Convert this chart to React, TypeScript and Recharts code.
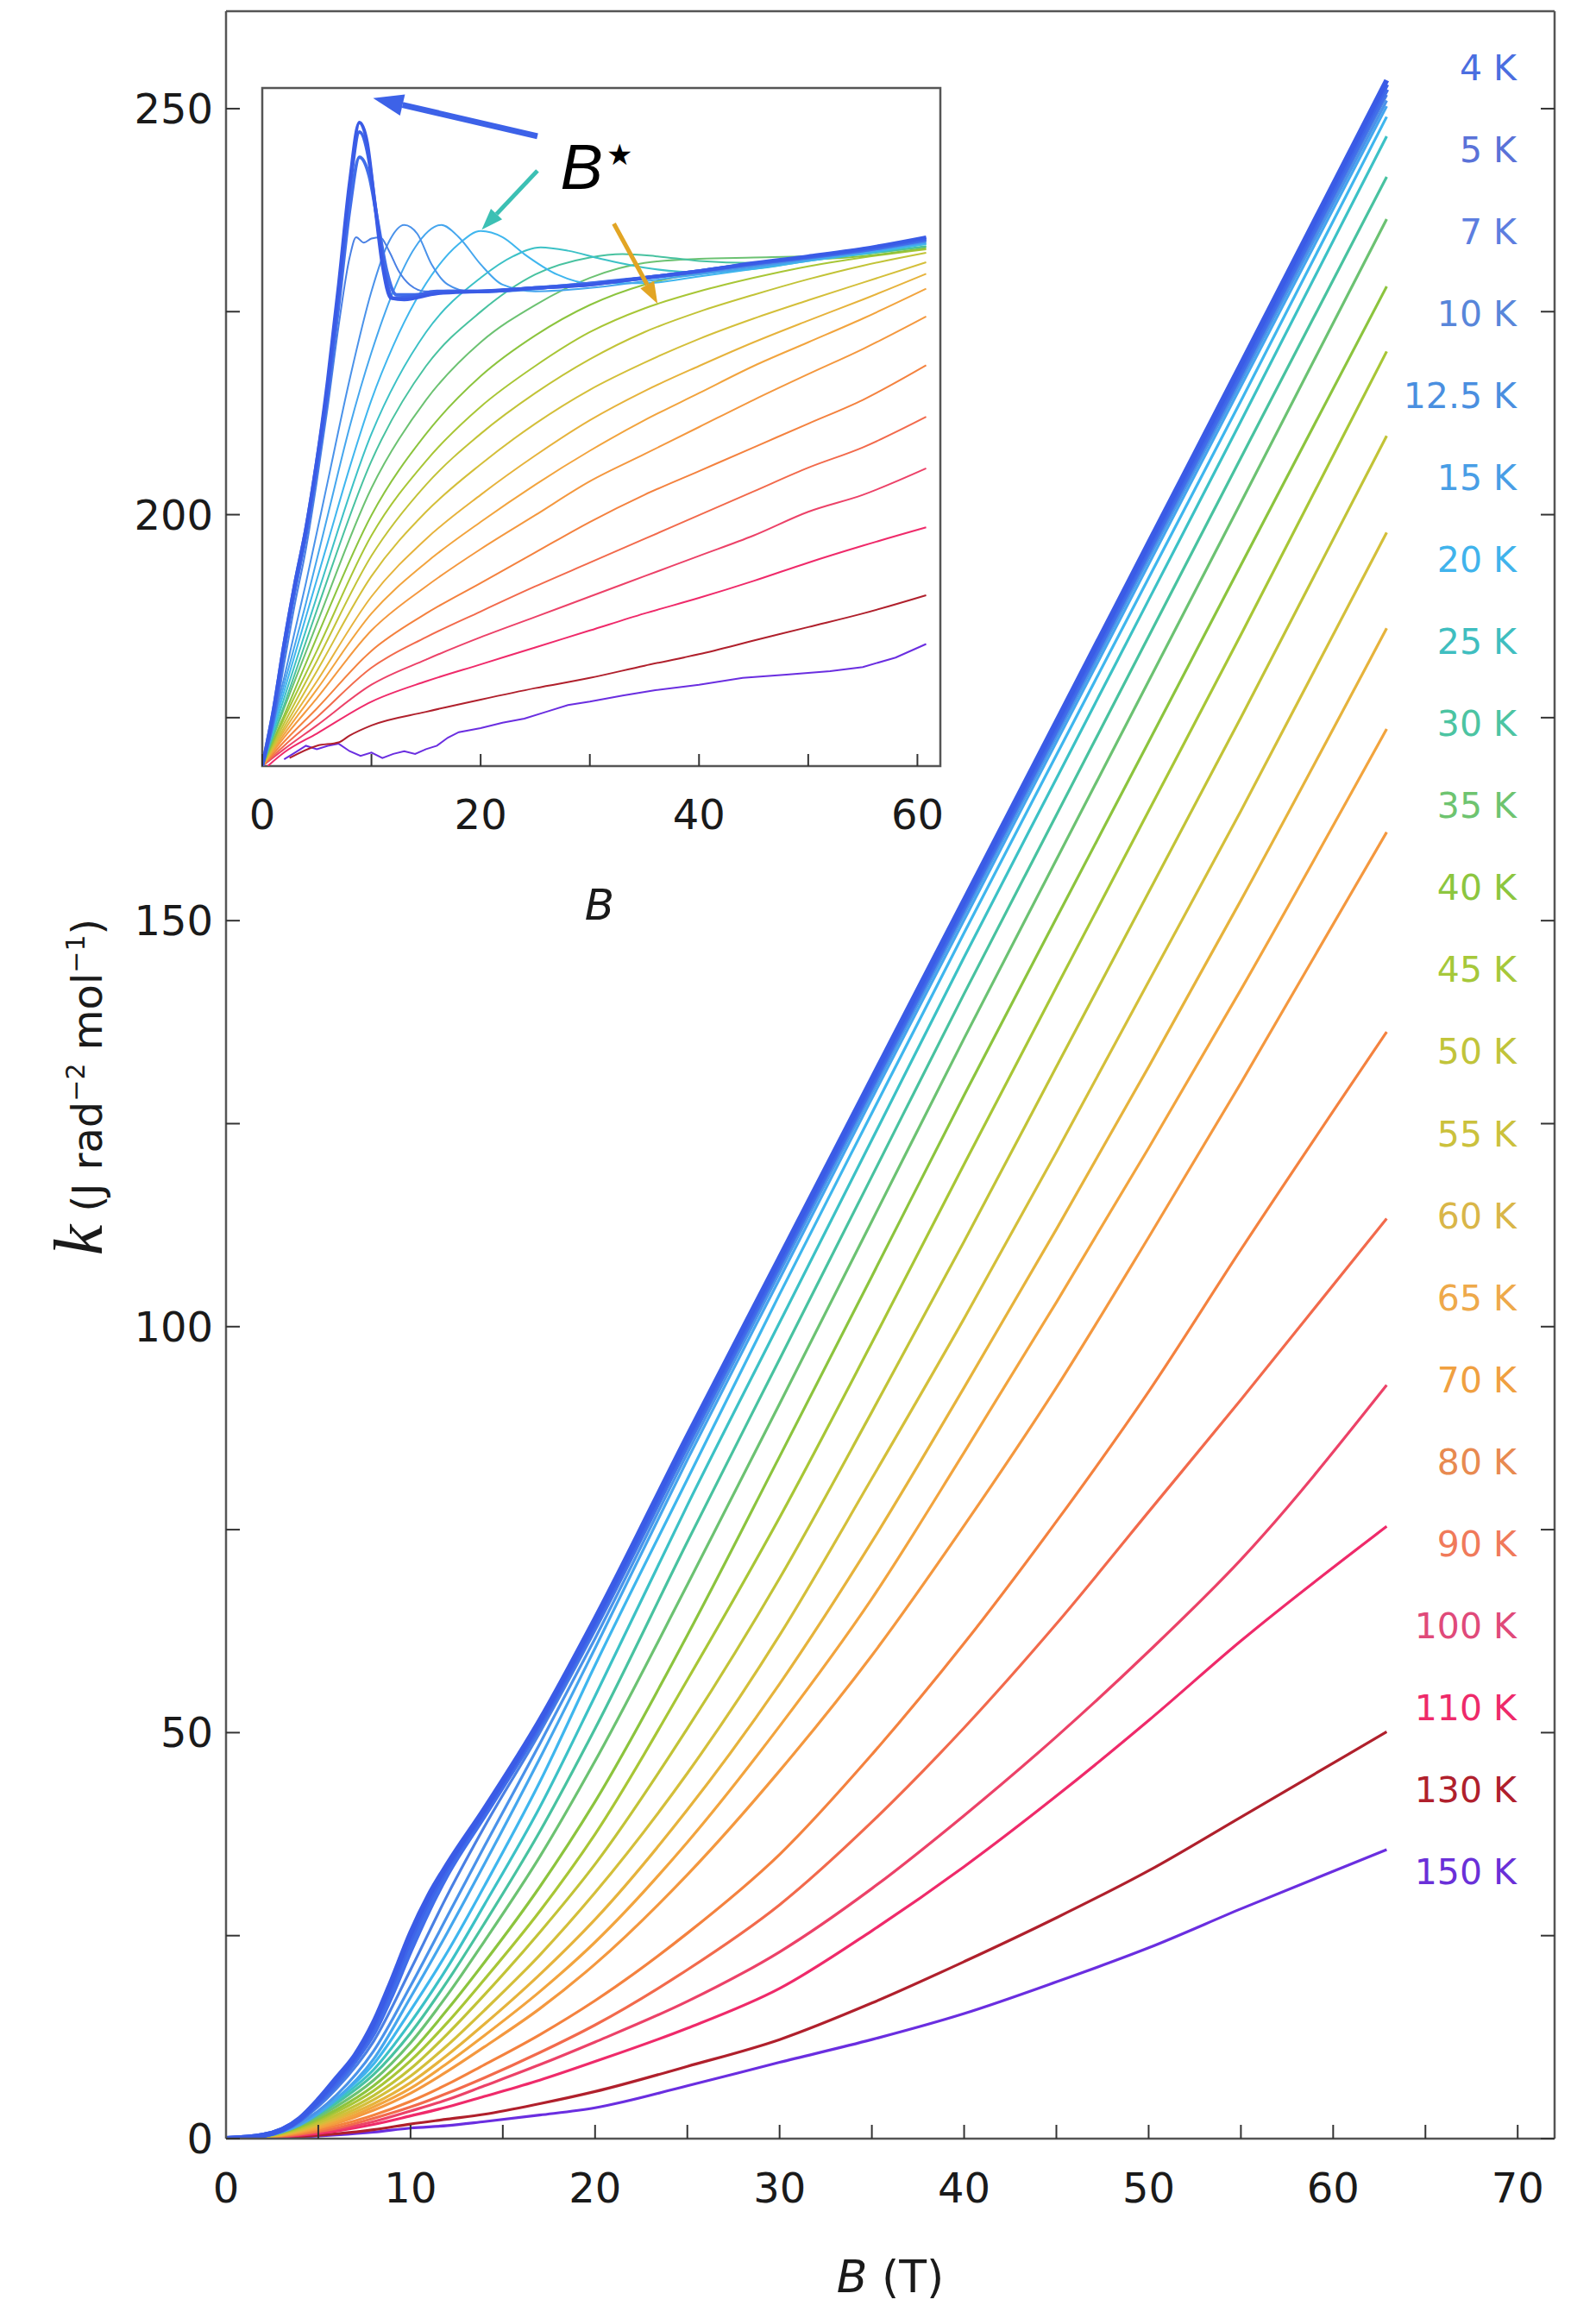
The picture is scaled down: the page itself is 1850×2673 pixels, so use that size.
import React from 'react';
import { LineChart, Line, XAxis, YAxis, ReferenceDot, ReferenceLine, ReferenceArea, Label } from 'recharts';

const FONT = '"DejaVu Sans", sans-serif';

// temperature labels and colours (4 K ... 150 K)
const temps = ['4 K', '5 K', '7 K', '10 K', '12.5 K', '15 K', '20 K', '25 K', '30 K', '35 K', '40 K', '45 K',
  '50 K', '55 K', '60 K', '65 K', '70 K', '80 K', '90 K', '100 K', '110 K', '130 K', '150 K'];
const lineColors = ['#3a5be6', '#3e64e8', '#416eea', '#4a80e4', '#4a92ea', '#45a6ee', '#3fb6ee', '#3cc1c6',
  '#48c2a0', '#6cc272', '#8cc43e', '#a8c636', '#c2c337', '#d4bf3a', '#e6b33c', '#f2a43e', '#f4983f',
  '#f4823f', '#f26a4c', '#ec4268', '#ef2a6a', '#b0202c', '#6a2ee0'];
const labelColors = ['#4a6ee0', '#5a72d8', '#5d7ee0', '#5886da', '#4a8fe0', '#489ee6', '#40b3ec', '#3fbec0',
  '#4cc4a2', '#6ec470', '#8cc63f', '#a6c83a', '#c1c43a', '#cbc13c', '#d9b648', '#eea94a', '#f0a040',
  '#e88a50', '#f07a5a', '#e04a7a', '#ee2a6a', '#b0202c', '#6a30d8'];

// main panel: k vs B (T), one list of [B, k] per temperature
const k4K = [[0, 0], [2, 0.4], [4, 2.5], [5, 4.8], [6, 7.5], [7, 10.3], [8, 14.3], [9, 19.6], [10, 25.3], [11, 30], [12, 33.8], [14, 40.6], [17, 51.5], [20, 64], [25, 86.5], [30, 108.5], [35, 130.5], [40, 152.5], [45, 174.5], [50, 196.5], [55, 218.5], [62.9, 253.5]];
const k5K = [[0, 0], [2, 0.4], [4, 2.4], [5, 4.6], [6, 7.2], [7, 10], [8, 13.8], [9, 19], [10, 24.6], [11, 29.4], [12, 33.4], [14, 40.3], [17, 51.2], [20, 63.6], [25, 86.1], [30, 108.1], [35, 130.1], [40, 152.1], [45, 174.1], [50, 196.1], [55, 218], [62.9, 253]];
const k7K = [[0, 0], [2, 0.4], [4, 2.3], [5, 4.4], [6, 6.8], [7, 9.6], [8, 13], [9, 17.8], [10, 23.2], [11, 28.2], [12, 32.6], [14, 39.8], [17, 50.8], [20, 63.2], [25, 85.6], [30, 107.7], [35, 129.7], [40, 151.7], [45, 173.6], [50, 195.6], [55, 217.5], [62.9, 252.4]];
const k10K = [[0, 0], [2, 0.4], [4, 2.2], [6, 6.2], [8, 12], [10, 20.8], [12, 30], [14, 38.4], [17, 50], [20, 62.6], [25, 85.1], [30, 107.3], [35, 129.3], [40, 151.3], [45, 173.2], [50, 195.1], [55, 217], [62.9, 251.7]];
const k12K = [[0, 0], [2, 0.35], [4, 1.9], [6, 5.4], [8, 10.8], [10, 18.8], [12, 27.4], [14, 36], [17, 48.6], [20, 61.6], [25, 84.4], [30, 106.7], [35, 128.8], [40, 150.8], [45, 172.7], [50, 194.6], [55, 216.5], [62.9, 251]];
const k15K = [[0, 0], [2, 0.3], [4, 1.7], [6, 4.9], [8, 9.8], [10, 17.4], [12, 25.4], [14, 33.8], [17, 46.8], [20, 60.4], [25, 83.6], [30, 105.9], [35, 128.1], [40, 150.1], [45, 172], [50, 193.9], [55, 215.8], [62.9, 250.3]];
const k20K = [[0, 0], [2, 0.35], [4, 2], [6, 5], [8, 9.2], [10, 15.8], [12, 23], [14, 31.1], [17, 43.9], [20, 58.3], [25, 81.2], [30, 104], [35, 126.3], [40, 148.5], [45, 170.4], [50, 192.2], [55, 214], [62.9, 249]];
const k25K = [[0, 0], [2, 0.35], [4, 1.9], [6, 4.7], [8, 8.5], [10, 14.3], [12, 21.1], [14, 28.8], [17, 40.8], [20, 54.5], [25, 78], [30, 100.5], [35, 123], [40, 145.5], [45, 167.5], [50, 189.5], [55, 211.5], [62.9, 246.6]];
const k30K = [[0, 0], [2, 0.35], [4, 1.8], [6, 4.4], [8, 7.9], [10, 13], [12, 19.4], [14, 26.5], [17, 37.8], [20, 50.5], [25, 73.5], [30, 96], [35, 118.5], [40, 141], [45, 163], [50, 185], [55, 207], [62.9, 241.6]];
const k35K = [[0, 0], [2, 0.33], [4, 1.65], [6, 4], [8, 7.2], [10, 11.8], [12, 17.7], [14, 24.3], [17, 34.7], [20, 46.5], [25, 68.2], [30, 90.5], [35, 113], [40, 135.5], [45, 157.5], [50, 179.5], [55, 201.5], [62.9, 236.4]];
const k40K = [[0, 0], [2, 0.3], [4, 1.5], [6, 3.6], [8, 6.5], [10, 10.6], [12, 15.9], [14, 21.7], [17, 31], [20, 41.5], [25, 62], [30, 84], [35, 106.2], [40, 128.5], [45, 150.3], [50, 172], [55, 193.8], [62.9, 228.1]];
const k45K = [[0, 0], [2, 0.28], [4, 1.35], [6, 3.3], [8, 5.9], [10, 9.6], [12, 14.3], [14, 19.6], [17, 28], [20, 37.5], [25, 56.5], [30, 76.5], [35, 98], [40, 120], [45, 141.8], [50, 163.5], [55, 185.2], [62.9, 220.1]];
const k50K = [[0, 0], [2, 0.26], [4, 1.2], [6, 2.95], [8, 5.3], [10, 8.6], [12, 12.9], [14, 17.7], [17, 25.4], [20, 33.8], [25, 50.5], [30, 69], [35, 89.5], [40, 110.5], [45, 132], [50, 153.5], [55, 175], [62.9, 209.7]];
const k55K = [[0, 0], [2, 0.23], [4, 1.1], [6, 2.65], [8, 4.8], [10, 7.7], [12, 11.5], [14, 15.8], [17, 22.6], [20, 30.3], [25, 45], [30, 62], [35, 81.3], [40, 101], [45, 121.5], [50, 142.5], [55, 163.5], [62.9, 197.8]];
const k60K = [[0, 0], [2, 0.2], [4, 1], [6, 2.4], [8, 4.3], [10, 6.9], [12, 10.3], [14, 14.1], [17, 20.2], [20, 27], [25, 40.5], [30, 56], [35, 73.5], [40, 92.5], [45, 112], [50, 132], [55, 152.5], [62.9, 186]];
const k65K = [[0, 0], [2, 0.19], [4, 0.87], [6, 2.1], [8, 3.9], [10, 6.2], [12, 9.3], [14, 12.7], [17, 18.1], [20, 24.2], [25, 36.5], [30, 50.8], [35, 66.5], [40, 84.5], [45, 103], [50, 122], [55, 141.5], [62.9, 173.6]];
const k70K = [[0, 0], [2, 0.17], [4, 0.78], [6, 1.9], [8, 3.5], [10, 5.6], [12, 8.3], [14, 11.3], [17, 16], [20, 21.5], [25, 32.5], [30, 45.3], [35, 59.5], [40, 75.5], [45, 92.5], [50, 111], [55, 130], [62.9, 160.9]];
const k80K = [[0, 0], [2, 0.14], [4, 0.64], [6, 1.6], [8, 2.9], [10, 4.6], [12, 6.7], [14, 9.1], [17, 12.8], [20, 17], [25, 25.3], [30, 35], [35, 47.3], [40, 61], [45, 76], [50, 92], [55, 109.5], [62.9, 136.3]];
const k90K = [[0, 0], [2, 0.12], [4, 0.55], [6, 1.3], [8, 2.5], [10, 3.9], [12, 5.6], [14, 7.5], [17, 10.6], [20, 14], [25, 20.8], [30, 28.8], [35, 39], [40, 50.6], [45, 63.4], [50, 77.2], [55, 91], [62.9, 113.3]];
const k100K = [[0, 0], [2, 0.1], [4, 0.48], [6, 1.15], [8, 2.1], [10, 3.4], [12, 4.8], [14, 6.5], [17, 9.1], [20, 11.9], [25, 16.9], [30, 23], [35, 30.8], [40, 39.8], [45, 49.5], [50, 60], [55, 71.3], [62.9, 92.8]];
const k110K = [[0, 0], [2, 0.08], [4, 0.4], [6, 0.95], [8, 1.75], [10, 2.8], [12, 3.9], [14, 5.2], [17, 7.2], [20, 9.5], [25, 13.6], [30, 18.5], [35, 25.6], [40, 33.5], [45, 42.2], [50, 51.5], [55, 61.3], [62.9, 75.4]];
const k130K = [[0, 0], [2, 0.05], [4, 0.25], [6, 0.6], [8, 1.1], [10, 1.8], [12, 2.4], [14, 3], [17, 4.3], [20, 5.8], [25, 8.9], [30, 12.2], [35, 16.7], [40, 21.8], [45, 27.2], [50, 33], [55, 39.6], [62.9, 50.1]];
const k150K = [[0, 0], [2, 0.04], [4, 0.2], [6, 0.45], [8, 0.8], [10, 1.3], [12, 1.6], [14, 2.1], [17, 2.9], [20, 3.8], [25, 6.5], [30, 9.4], [35, 12.2], [40, 15.4], [45, 19.3], [50, 23.5], [55, 28.3], [62.9, 35.6]];

// inset: dk/dB (arbitrary units) vs B, one list of [B, dk/dB] per temperature
const d4K = [[0, 0], [1, 0.08], [2, 0.18], [3, 0.27], [4, 0.35], [5, 0.45], [6, 0.57], [7, 0.71], [8, 0.86], [8.9, 0.949], [9.6, 0.92], [10.3, 0.83], [11, 0.74], [11.8, 0.69], [13, 0.688], [16, 0.697], [20, 0.7], [25, 0.705], [30, 0.71], [36, 0.722], [40, 0.73], [45, 0.742], [50, 0.752], [55, 0.763], [60.8, 0.78]];
const d5K = [[0, 0], [1, 0.08], [2, 0.18], [3, 0.27], [4, 0.35], [5, 0.45], [6, 0.56], [7, 0.7], [8, 0.85], [8.9, 0.935], [9.7, 0.9], [10.4, 0.82], [11.2, 0.73], [12, 0.69], [13.5, 0.692], [16, 0.7], [20, 0.7], [25, 0.705], [30, 0.71], [36, 0.722], [40, 0.73], [45, 0.741], [50, 0.751], [55, 0.762], [60.8, 0.778]];
const d7K = [[0, 0], [1, 0.07], [2, 0.17], [3, 0.26], [4, 0.34], [5, 0.44], [6, 0.55], [7, 0.68], [8, 0.82], [8.9, 0.898], [9.8, 0.87], [10.6, 0.8], [11.4, 0.73], [12.3, 0.695], [14, 0.695], [17, 0.7], [20, 0.7], [25, 0.705], [30, 0.712], [36, 0.722], [40, 0.73], [45, 0.741], [50, 0.75], [55, 0.76], [60.8, 0.776]];
const d10K = [[0, 0], [1, 0.06], [2, 0.15], [3, 0.24], [4, 0.32], [5, 0.42], [6, 0.53], [7, 0.65], [8, 0.75], [8.6, 0.78], [9.3, 0.772], [10, 0.778], [10.8, 0.78], [11.6, 0.76], [12.5, 0.73], [13.5, 0.71], [15, 0.7], [18, 0.7], [22, 0.703], [28, 0.71], [35, 0.72], [40, 0.728], [45, 0.739], [50, 0.749], [55, 0.76], [60.8, 0.775]];
const d12K = [[0, 0], [2, 0.13], [4, 0.27], [6, 0.42], [8, 0.57], [10, 0.7], [11.5, 0.77], [13, 0.798], [14.2, 0.785], [15.5, 0.74], [17, 0.71], [19, 0.7], [22, 0.7], [28, 0.708], [35, 0.718], [40, 0.727], [45, 0.737], [50, 0.748], [55, 0.759], [60.8, 0.773]];
const d15K = [[0, 0], [2, 0.12], [4, 0.24], [6, 0.37], [8, 0.5], [10, 0.61], [12, 0.7], [14, 0.765], [16.4, 0.798], [18, 0.78], [20, 0.74], [22, 0.71], [25, 0.7], [30, 0.705], [35, 0.715], [40, 0.725], [45, 0.735], [50, 0.746], [55, 0.757], [60.8, 0.772]];
const d20K = [[0, 0], [2, 0.11], [4, 0.22], [6, 0.33], [8, 0.44], [10, 0.54], [12, 0.62], [14, 0.685], [16, 0.735], [18, 0.77], [20, 0.789], [22, 0.78], [24, 0.755], [27, 0.725], [30, 0.712], [35, 0.712], [40, 0.722], [45, 0.733], [50, 0.745], [55, 0.756], [60.8, 0.77]];
const d25K = [[0, 0], [2, 0.1], [5, 0.25], [10, 0.49], [15, 0.64], [20, 0.72], [23, 0.752], [25.5, 0.765], [28, 0.76], [31, 0.748], [35, 0.735], [40, 0.728], [45, 0.733], [50, 0.745], [55, 0.755], [60.8, 0.77]];
const d30K = [[0, 0], [2, 0.09], [5, 0.23], [10, 0.45], [15, 0.59], [20, 0.67], [25, 0.725], [30, 0.75], [33, 0.755], [36, 0.752], [40, 0.745], [45, 0.742], [50, 0.748], [55, 0.755], [60.8, 0.767]];
const d35K = [[0, 0], [2, 0.085], [5, 0.21], [10, 0.41], [15, 0.54], [20, 0.625], [25, 0.68], [30, 0.72], [35, 0.742], [40, 0.748], [45, 0.75], [50, 0.752], [55, 0.756], [60.8, 0.766]];
const d40K = [[0, 0], [2, 0.075], [5, 0.19], [10, 0.37], [15, 0.49], [20, 0.575], [25, 0.635], [30, 0.68], [35, 0.71], [40, 0.727], [45, 0.738], [50, 0.746], [55, 0.752], [60.8, 0.764]];
const d45K = [[0, 0], [2, 0.07], [5, 0.17], [10, 0.34], [15, 0.45], [20, 0.53], [25, 0.59], [30, 0.64], [35, 0.675], [40, 0.7], [45, 0.72], [50, 0.737], [55, 0.75], [60.8, 0.762]];
const d50K = [[0, 0], [2, 0.063], [5, 0.155], [10, 0.31], [15, 0.415], [20, 0.49], [25, 0.55], [30, 0.6], [35, 0.64], [40, 0.67], [45, 0.695], [50, 0.718], [55, 0.738], [60.8, 0.757]];
const d55K = [[0, 0], [2, 0.057], [5, 0.14], [10, 0.28], [15, 0.375], [20, 0.445], [25, 0.505], [30, 0.555], [35, 0.595], [40, 0.63], [45, 0.66], [50, 0.687], [55, 0.713], [60.8, 0.743]];
const d60K = [[0, 0], [2, 0.052], [5, 0.125], [10, 0.25], [15, 0.335], [20, 0.4], [25, 0.458], [30, 0.51], [35, 0.553], [40, 0.59], [45, 0.625], [50, 0.657], [55, 0.688], [60.8, 0.726]];
const d65K = [[0, 0], [2, 0.047], [5, 0.113], [10, 0.225], [15, 0.3], [20, 0.36], [25, 0.415], [30, 0.465], [35, 0.51], [40, 0.55], [45, 0.59], [50, 0.625], [55, 0.66], [60.8, 0.704]];
const d70K = [[0, 0], [2, 0.042], [5, 0.1], [10, 0.2], [15, 0.265], [20, 0.32], [25, 0.37], [30, 0.42], [35, 0.46], [40, 0.5], [45, 0.54], [50, 0.578], [55, 0.615], [60.8, 0.663]];
const d80K = [[0, 0], [2, 0.036], [5, 0.085], [10, 0.17], [15, 0.225], [20, 0.27], [25, 0.315], [30, 0.36], [35, 0.4], [40, 0.435], [45, 0.47], [50, 0.505], [55, 0.54], [60.8, 0.591]];
const d90K = [[0, 0], [2, 0.03], [5, 0.072], [10, 0.145], [15, 0.19], [20, 0.228], [25, 0.265], [30, 0.3], [35, 0.335], [40, 0.37], [45, 0.405], [50, 0.44], [55, 0.47], [60.8, 0.515]];
const d100K = [[0, 0], [2, 0.025], [5, 0.06], [10, 0.12], [15, 0.157], [20, 0.19], [25, 0.22], [30, 0.25], [35, 0.28], [40, 0.31], [45, 0.34], [50, 0.375], [55, 0.4], [60.8, 0.439]];
const d110K = [[0.5, 0], [2, 0.02], [5, 0.048], [10, 0.095], [15, 0.125], [20, 0.15], [25, 0.175], [30, 0.2], [35, 0.225], [40, 0.248], [45, 0.273], [50, 0.3], [55, 0.325], [60.8, 0.352]];
const d130K = [[2.5, 0.012], [5, 0.03], [7, 0.035], [8, 0.045], [10, 0.06], [15, 0.08], [20, 0.098], [25, 0.115], [30, 0.13], [35, 0.148], [40, 0.165], [45, 0.185], [50, 0.205], [55, 0.225], [60.8, 0.252]];
const d150K = [[2, 0.01], [3, 0.02], [4, 0.03], [5, 0.025], [6, 0.03], [7, 0.033], [8, 0.022], [9, 0.015], [10, 0.02], [11, 0.012], [12, 0.018], [13, 0.022], [14, 0.018], [15, 0.025], [16, 0.03], [17, 0.042], [18, 0.05], [20, 0.056], [22, 0.064], [24, 0.07], [26, 0.08], [28, 0.09], [30, 0.095], [33, 0.104], [36, 0.112], [40, 0.12], [44, 0.13], [48, 0.135], [52, 0.14], [55, 0.146], [58, 0.16], [60.8, 0.18]];

const kCurves = [k4K, k5K, k7K, k10K, k12K, k15K, k20K, k25K, k30K, k35K, k40K, k45K, k50K, k55K, k60K, k65K, k70K, k80K, k90K, k100K, k110K, k130K, k150K];
const dCurves = [d4K, d5K, d7K, d10K, d12K, d15K, d20K, d25K, d30K, d35K, d40K, d45K, d50K, d55K, d60K, d65K, d70K, d80K, d90K, d100K, d110K, d130K, d150K];

const mainXTicks = [0, 5, 10, 15, 20, 25, 30, 35, 40, 45, 50, 55, 60, 65, 70];
const mainYTicks = [0, 25, 50, 75, 100, 125, 150, 175, 200, 225, 250];
const insetXTicks = [0, 10, 20, 30, 40, 50, 60];

// B* arrows in the inset: [from, to] in inset data units
const arrows = [
  { from: [25.2, 0.929], to: [10.15, 0.985], color: '#3d62e8', w: 7 },
  { from: [25.2, 0.878], to: [20.1, 0.791], color: '#3cc0b4', w: 5 },
  { from: [32.2, 0.8], to: [36.2, 0.682], color: '#e2a524', w: 5 },
];

const toPts = (pairs: number[][]) => pairs.map(([B, v]) => ({ B, v }));

const thick = (i: number) => i < 3;

const Arrow = (props: any) => {
  const { x1, y1, x2, y2, color, w } = props;
  const dx = x2 - x1;
  const dy = y2 - y1;
  const len = Math.hypot(dx, dy) || 1;
  const ux = dx / len;
  const uy = dy / len;
  const head = w * 5;
  const half = w * 1.8;
  const bx = x2 - ux * head;
  const by = y2 - uy * head;
  const px = -uy;
  const py = ux;
  return (
    <g>
      <line x1={x1} y1={y1} x2={bx} y2={by} stroke={color} strokeWidth={w} />
      <polygon points={`${x2},${y2} ${bx + px * half},${by + py * half} ${bx - px * half},${by - py * half}`} fill={color} />
    </g>
  );
};

const tickStyle = { fontSize: 48, fill: '#1a1a1a', fontFamily: FONT };

const App: React.FC = () => {
  return (
    <div style={{ position: 'absolute', left: 0, top: 0, width: 1850, height: 2673, background: '#fff' }}>
      {/* main panel */}
      <div style={{ position: 'absolute', left: 0, top: 0 }}>
        <LineChart width={1850} height={2673} margin={{ top: 12, right: 47, bottom: 104, left: 152 }}>
          <XAxis
            dataKey="B"
            type="number"
            domain={[0, 72]}
            allowDataOverflow
            ticks={mainXTicks}
            interval={0}
            tickFormatter={(v: number) => (v % 10 === 0 ? String(v) : '')}
            tickSize={-16}
            tickMargin={56}
            height={90}
            stroke="#555"
            strokeWidth={2.5}
            tickLine={{ stroke: '#333', strokeWidth: 2 }}
            tick={tickStyle}
          >
            <Label
              content={() => (
                <text x={1032} y={2657} textAnchor="middle" fontFamily={FONT} fontSize={52} fill="#1a1a1a">
                  <tspan fontStyle="italic">B</tspan> (T)
                </text>
              )}
            />
          </XAxis>
          <XAxis
            xAxisId="top"
            orientation="top"
            type="number"
            domain={[0, 72]}
            allowDataOverflow
            ticks={mainXTicks}
            interval={0}
            tickFormatter={() => ''}
            tickSize={-16}
            height={1}
            stroke="#555"
            strokeWidth={2.5}
            tickLine={{ stroke: '#333', strokeWidth: 2 }}
          />
          <YAxis
            type="number"
            domain={[0, 262]}
            allowDataOverflow
            ticks={mainYTicks}
            interval={0}
            tickFormatter={(v: number) => (v % 50 === 0 ? String(v) : '')}
            tickSize={-16}
            tickMargin={31}
            width={110}
            stroke="#555"
            strokeWidth={2.5}
            tickLine={{ stroke: '#333', strokeWidth: 2 }}
            tick={tickStyle}
          >
            <Label
              content={() => (
                <text transform="translate(118,1260) rotate(-90)" textAnchor="middle" fontFamily={FONT} fontSize={48} fill="#1a1a1a">
                  <tspan fontFamily='"Liberation Serif", serif' fontStyle="italic" fontSize={80}>k</tspan>
                  <tspan> (J rad</tspan>
                  <tspan fontSize={30} dy={-20}>−2</tspan>
                  <tspan dy={20}> mol</tspan>
                  <tspan fontSize={30} dy={-20}>−1</tspan>
                  <tspan dy={20}>)</tspan>
                </text>
              )}
            />
          </YAxis>
          <YAxis
            yAxisId="right"
            orientation="right"
            type="number"
            domain={[0, 262]}
            allowDataOverflow
            ticks={mainYTicks}
            interval={0}
            tickFormatter={() => ''}
            tickSize={-16}
            width={1}
            stroke="#555"
            strokeWidth={2.5}
            tickLine={{ stroke: '#333', strokeWidth: 2 }}
          />
          {kCurves.map((c, i) => kCurves.length - 1 - i).map((idx) => (
            <Line
              key={temps[idx]}
              data={toPts(kCurves[idx])}
              dataKey="v"
              type="monotone"
              stroke={lineColors[idx]}
              strokeWidth={thick(idx) ? 6 : 3.2}
              dot={false}
              isAnimationActive={false}
            />
          ))}
          {temps.map((t, i) => (
            <ReferenceDot
              key={t}
              x={69.94}
              y={255.1 - 10.1 * i}
              r={0}
              ifOverflow="visible"
              shape={(p: any) => (
                <text x={p.cx} y={p.cy} dy="0.36em" textAnchor="end" fontFamily={FONT} fontSize={41} fill={labelColors[i]}>
                  {t}
                </text>
              )}
            />
          ))}
        </LineChart>
      </div>

      {/* inset: dk/dB */}
      <div style={{ position: 'absolute', left: 0, top: 0 }}>
        <LineChart width={1250} height={1120} margin={{ top: 102, right: 160, bottom: 152, left: 304 }}>
          <XAxis
            dataKey="B"
            type="number"
            domain={[0, 62.1]}
            allowDataOverflow
            ticks={insetXTicks}
            interval={0}
            tickFormatter={(v: number) => (v % 20 === 0 ? String(v) : '')}
            tickSize={-14}
            tickMargin={53}
            height={80}
            axisLine={false}
            tickLine={{ stroke: '#333', strokeWidth: 2 }}
            tick={tickStyle}
          >
            <Label
              content={() => (
                <text x={695} y={1066} textAnchor="middle" fontFamily={FONT} fontSize={50} fontStyle="italic" fill="#1a1a1a">
                  B
                </text>
              )}
            />
          </XAxis>
          <YAxis type="number" domain={[0, 1]} allowDataOverflow hide>
            <Label
              content={() => (
                <text transform="translate(1180,495) rotate(-90)" textAnchor="middle" fontFamily={FONT} fontSize={46} fill="#1a1a1a">
                  d<tspan fontStyle="italic">k</tspan>/d<tspan fontStyle="italic">B</tspan>
                </text>
              )}
            />
          </YAxis>
          <ReferenceArea x1={0} x2={62.1} y1={0} y2={1} fill="none" stroke="#555" strokeWidth={2.5} ifOverflow="visible" />
          {dCurves.map((c, i) => dCurves.length - 1 - i).map((idx) => (
            <Line
              key={temps[idx]}
              data={toPts(dCurves[idx])}
              dataKey="v"
              type={idx === dCurves.length - 1 ? 'linear' : 'monotone'}
              stroke={lineColors[idx]}
              strokeWidth={thick(idx) ? 4 : 2}
              dot={false}
              isAnimationActive={false}
            />
          ))}
          {arrows.map((a, i) => (
            <ReferenceLine
              key={i}
              segment={[{ x: a.from[0], y: a.from[1] }, { x: a.to[0], y: a.to[1] }]}
              ifOverflow="visible"
              shape={(p: any) => <Arrow x1={p.x1} y1={p.y1} x2={p.x2} y2={p.y2} color={a.color} w={a.w} />}
            />
          ))}
          <ReferenceDot
            x={27.3}
            y={0.851}
            r={0}
            ifOverflow="visible"
            shape={(p: any) => (
              <text x={p.cx} y={p.cy} fontFamily='"Liberation Sans", sans-serif' fontSize={74} fontStyle="italic" fill="#000">
                B<tspan fontFamily={FONT} fontStyle="normal" fontSize={34} dy={-28} dx={4}>★</tspan>
              </text>
            )}
          />
        </LineChart>
      </div>
    </div>
  );
};

export default App;
